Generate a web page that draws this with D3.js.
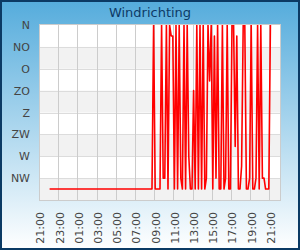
<!DOCTYPE html>
<html>
<head>
<meta charset="utf-8">
<script src="https://cdn.jsdelivr.net/npm/d3@7"></script>
<style>
  body { margin: 0; background: #fff; }
  svg { display: block; font-family: "DejaVu Sans", sans-serif; }
</style>
</head>
<body>
<div id="chart"></div>
<script>
// Windrichting: wind direction in degrees (N = 0 at the top, increasing downwards)
const Y_TICKS = [0, 45, 90, 135, 180, 225, 270, 315];
const Y_LABELS = ["N", "NO", "O", "ZO", "Z", "ZW", "W", "NW"];

const X_TICK_LABELS = [
  "21:00", "23:00", "01:00", "03:00", "05:00", "07:00", "09:00",
  "11:00", "13:00", "15:00", "17:00", "19:00", "21:00"
];
const X_EXTRA_HOURS = 1; // axis runs one hour past the last tick (22:00)

// readings, times roll over to the next day when they go down
const TIMES = [
  "22:00", "08:40",
  "08:50", "09:00", "09:10", "09:20", "09:30", "09:40", "09:50",
  "10:00", "10:10", "10:20", "10:30", "10:40", "10:50",
  "11:00", "11:10", "11:20", "11:30", "11:40", "11:50",
  "12:00", "12:10", "12:20", "12:30", "12:40", "12:50",
  "13:00", "13:10", "13:20", "13:30", "13:40", "13:50",
  "14:00", "14:10", "14:20", "14:30", "14:40", "14:50",
  "15:00", "15:10", "15:20", "15:30", "15:40", "15:50",
  "16:00", "16:10", "16:20", "16:30", "16:40", "16:50",
  "17:00", "17:10", "17:20", "17:30", "17:40", "17:50",
  "18:00", "18:10", "18:20", "18:30", "18:40", "18:50",
  "19:00", "19:10", "19:20", "19:30", "19:40", "19:50",
  "20:00", "20:10", "20:20", "20:30", "20:40", "20:50",
  "21:00"
];
const DIRECTIONS = [
  337.5, 337.5,
  0, 337.5, 337.5, 337.5, 337.5, 0, 315,
  315, 0, 337.5, 0, 22.5, 22.5,
  337.5, 0, 337.5, 0, 315, 337.5,
  0, 337.5, 0, 270, 337.5, 337.5,
  135, 337.5, 0, 337.5, 0, 337.5,
  0, 337.5, 315, 0, 115, 0,
  337.5, 22.5, 315, 0, 337.5, 337.5,
  0, 337.5, 315, 0, 337.5, 337.5,
  0, 0, 250, 22.5, 337.5, 337.5,
  290, 0, 0, 337.5, 337.5, 315,
  0, 337.5, 337.5, 315, 0, 337.5,
  0, 315, 315, 337.5, 337.5, 337.5,
  0
];

function toDates(list) {
  let day = 0, prev = -1;
  return list.map(s => {
    const [h, m] = s.split(":").map(Number);
    const mins = h * 60 + m;
    if (mins < prev) day += 1;
    prev = mins;
    return new Date(2024, 0, 1 + day, h, m);
  });
}

const width = 300;
const height = 250;
const margin = { top: 25, right: 20, bottom: 50, left: 40 };
const innerWidth = width - margin.left - margin.right;
const innerHeight = height - margin.top - margin.bottom;

const svg = d3.select("#chart")
  .append("svg")
  .attr("width", width)
  .attr("height", height);

// background gradient + frame
const defs = svg.append("defs");
const grad = defs.append("linearGradient")
  .attr("id", "bg")
  .attr("x1", 0).attr("y1", 0)
  .attr("x2", 0).attr("y2", 1);
grad.append("stop").attr("offset", "0%").attr("stop-color", "#55acdc");
grad.append("stop").attr("offset", "100%").attr("stop-color", "#ffffff");

defs.append("clipPath")
  .attr("id", "plot-clip")
  .append("rect")
  .attr("width", innerWidth)
  .attr("height", innerHeight);

svg.append("rect")
  .attr("x", 1).attr("y", 1)
  .attr("width", width - 2)
  .attr("height", height - 2)
  .attr("fill", "url(#bg)")
  .attr("stroke", "#0b3a64")
  .attr("stroke-width", 2);

svg.append("text")
  .attr("x", width / 2)
  .attr("y", 17)
  .attr("text-anchor", "middle")
  .attr("font-size", "13px")
  .attr("fill", "#0d3a66")
  .text("Windrichting");

const g = svg.append("g")
  .attr("transform", `translate(${margin.left},${margin.top})`);

const dataDates = toDates(TIMES);
const data = dataDates.map((d, i) => ({ date: d, dir: DIRECTIONS[i] }));
const tickDates = toDates(X_TICK_LABELS);

const x = d3.scaleTime()
  .domain([tickDates[0], d3.timeHour.offset(tickDates[tickDates.length - 1], X_EXTRA_HOURS)])
  .range([0, innerWidth]);

const y = d3.scaleLinear()
  .domain([0, 360])
  .range([0, innerHeight]);

// plot background and alternating bands
g.append("rect")
  .attr("width", innerWidth)
  .attr("height", innerHeight)
  .attr("fill", "#ffffff");

g.selectAll(".band")
  .data(Y_TICKS.filter((d, i) => i % 2 === 1))
  .enter()
  .append("rect")
  .attr("class", "band")
  .attr("x", 0)
  .attr("width", innerWidth)
  .attr("y", d => y(d))
  .attr("height", d => y(d + 45) - y(d))
  .attr("fill", "#f2f2f2");

// grid
g.selectAll(".hgrid")
  .data(Y_TICKS.slice(1))
  .enter()
  .append("line")
  .attr("class", "hgrid")
  .attr("x1", 0).attr("x2", innerWidth)
  .attr("y1", d => Math.round(y(d)) + 0.5)
  .attr("y2", d => Math.round(y(d)) + 0.5)
  .attr("stroke", "#dcdcdc");

g.selectAll(".vgrid")
  .data(tickDates.slice(1))
  .enter()
  .append("line")
  .attr("class", "vgrid")
  .attr("x1", d => Math.round(x(d)) - 0.5)
  .attr("x2", d => Math.round(x(d)) - 0.5)
  .attr("y1", 0).attr("y2", innerHeight)
  .attr("stroke", "#cccccc");

g.append("rect")
  .attr("x", -0.5).attr("y", -0.5)
  .attr("width", innerWidth + 1)
  .attr("height", innerHeight + 1)
  .attr("fill", "none")
  .attr("stroke", "#cccccc");

// axes
const yAxis = d3.axisLeft(y)
  .tickValues(Y_TICKS)
  .tickFormat((d, i) => Y_LABELS[i])
  .tickSize(0)
  .tickPadding(10);

const yG = g.append("g").call(yAxis);
yG.select(".domain").remove();
yG.selectAll("text")
  .attr("font-size", "11px")
  .attr("font-family", "DejaVu Sans, sans-serif")
  .attr("fill", "#444");

const xAxis = d3.axisBottom(x)
  .tickValues(tickDates)
  .tickFormat((d, i) => X_TICK_LABELS[i])
  .tickSize(0);

const xG = g.append("g")
  .attr("transform", `translate(0,${innerHeight})`)
  .call(xAxis);
xG.select(".domain").remove();
xG.selectAll("text")
  .attr("font-size", "11px")
  .attr("font-family", "DejaVu Sans, sans-serif")
  .attr("fill", "#444")
  .attr("transform", "rotate(-90)")
  .attr("text-anchor", "end")
  .attr("x", -12)
  .attr("y", 0)
  .attr("dy", "0.35em");

// line
const line = d3.line()
  .x(d => x(d.date))
  .y(d => y(d.dir));

g.append("path")
  .datum(data)
  .attr("clip-path", "url(#plot-clip)")
  .attr("fill", "none")
  .attr("stroke", "#ff0000")
  .attr("stroke-width", 1.6)
  .attr("stroke-linejoin", "round")
  .attr("d", line);
</script>
</body>
</html>
